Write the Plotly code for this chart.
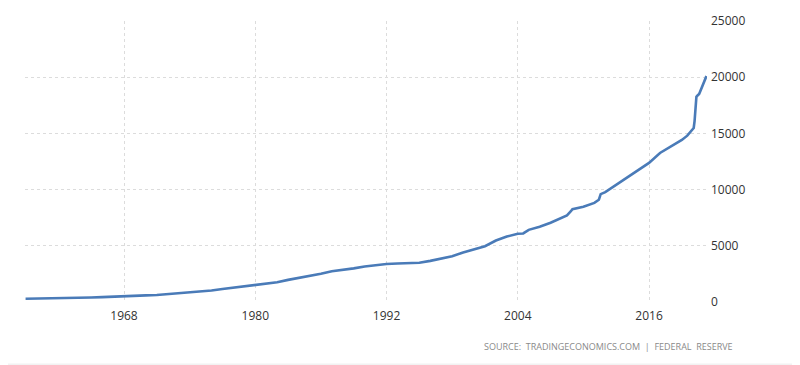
import plotly.graph_objects as go

# US M2 money supply (USD billion)
dates = [
    "1959-01-01", "1960-01-01", "1961-01-01", "1962-01-01", "1963-01-01", "1964-01-01",
    "1965-01-01", "1966-01-01", "1967-01-01", "1968-01-01", "1969-01-01", "1970-01-01",
    "1971-01-01", "1972-01-01", "1973-01-01", "1974-01-01", "1975-01-01", "1976-01-01",
    "1977-01-01", "1978-01-01", "1979-01-01", "1980-01-01", "1981-01-01", "1982-01-01",
    "1983-01-01", "1984-01-01", "1985-01-01", "1986-01-01", "1987-01-01", "1988-01-01",
    "1989-01-01", "1990-01-01", "1991-01-01", "1992-01-01", "1993-01-01", "1994-01-01",
    "1995-01-01", "1996-01-01", "1997-01-01", "1998-01-01", "1999-01-01", "2000-01-01",
    "2001-01-01", "2002-01-01", "2003-01-01", "2004-01-01", "2004-07-01", "2005-01-01",
    "2006-01-01", "2007-01-01", "2008-01-01", "2008-07-01", "2008-11-01", "2009-01-01",
    "2010-01-01", "2011-01-01", "2011-06-01", "2011-08-01", "2012-01-01", "2013-01-01",
    "2014-01-01", "2015-01-01", "2016-01-01", "2017-01-01", "2018-01-01", "2019-01-01",
    "2019-07-01", "2020-01-01", "2020-02-01", "2020-03-01", "2020-04-01", "2020-05-01",
    "2020-06-01", "2020-07-01", "2020-08-01", "2020-09-01", "2020-10-01", "2020-11-01",
    "2020-12-01", "2021-01-01", "2021-02-01", "2021-03-01", "2021-04-01",
]
values = [
    286, 298, 305, 326, 350, 377,
    406, 437, 458, 493, 530, 589,
    628, 712, 804, 857, 909, 1020,
    1152, 1268, 1369, 1473, 1604, 1761,
    1969, 2139, 2330, 2512, 2735, 2844,
    2992, 3165, 3293, 3382, 3431, 3475,
    3496, 3660, 3840, 4065, 4410, 4667,
    4958, 5470, 5820, 6078, 6100, 6420,
    6690, 7050, 7490, 7710, 8050, 8260,
    8470, 8820, 9100, 9600, 9780, 10440,
    11040, 11700, 12380, 13260, 13860, 14420,
    14800, 15430, 15480, 16100, 17300, 18250,
    18350, 18400, 18500, 18700, 18900, 19100,
    19300, 19450, 19700, 19900, 20100,
]

x_tick_vals = ["1968-01-01", "1980-01-01", "1992-01-01", "2004-01-01", "2016-01-01"]
x_tick_text = ["1968", "1980", "1992", "2004", "2016"]
y_tick_vals = [0, 5000, 10000, 15000, 20000, 25000]
y_tick_text = ["0", "5000", "10000", "15000", "20000", "25000"]

source_text = "SOURCE:  TRADINGECONOMICS.COM  |  FEDERAL  RESERVE"

fig = go.Figure()
fig.add_trace(go.Scatter(
    x=dates, y=values, mode="lines",
    line=dict(color="#4a7bb8", width=2.6),
    hoverinfo="x+y", showlegend=False,
))

font_family = "Open Sans, Noto Sans, DejaVu Sans, sans-serif"

fig.update_layout(
    width=800, height=365,
    margin=dict(l=17, r=101, t=13, b=71, autoexpand=False),
    paper_bgcolor="white", plot_bgcolor="white",
    font=dict(family=font_family, size=12, color="#333333"),
    xaxis=dict(
        type="date",
        range=["1958-12-13", "2021-04-20"],
        tickvals=x_tick_vals, ticktext=x_tick_text,
        showgrid=True, gridcolor="#dcdcdc", griddash="dot", gridwidth=1,
        zeroline=False, showline=False, ticks="",
        tickfont=dict(size=12, color="#333333"),
        ticklabelstandoff=5,
    ),
    yaxis=dict(
        side="right",
        range=[0, 25000],
        tickvals=y_tick_vals, ticktext=y_tick_text,
        showgrid=True, gridcolor="#dcdcdc", griddash="dot", gridwidth=1,
        zeroline=False, showline=False, ticks="",
        tickfont=dict(size=12, color="#333333"),
        ticklabelstandoff=3,
    ),
    annotations=[dict(
        text=source_text, xref="paper", yref="paper",
        x=1.041, y=-0.16, xanchor="right", yanchor="middle",
        showarrow=False,
        font=dict(size=9, color="#8a8a8a", family=font_family),
    )],
    shapes=[
        dict(type="rect", xref="paper", yref="paper",
             x0=-0.04, x1=1.14, y0=-0.232, y1=-0.219,
             fillcolor="#f2f2f2", line=dict(width=0), layer="below"),
    ],
)

fig.write_html("out.html")
